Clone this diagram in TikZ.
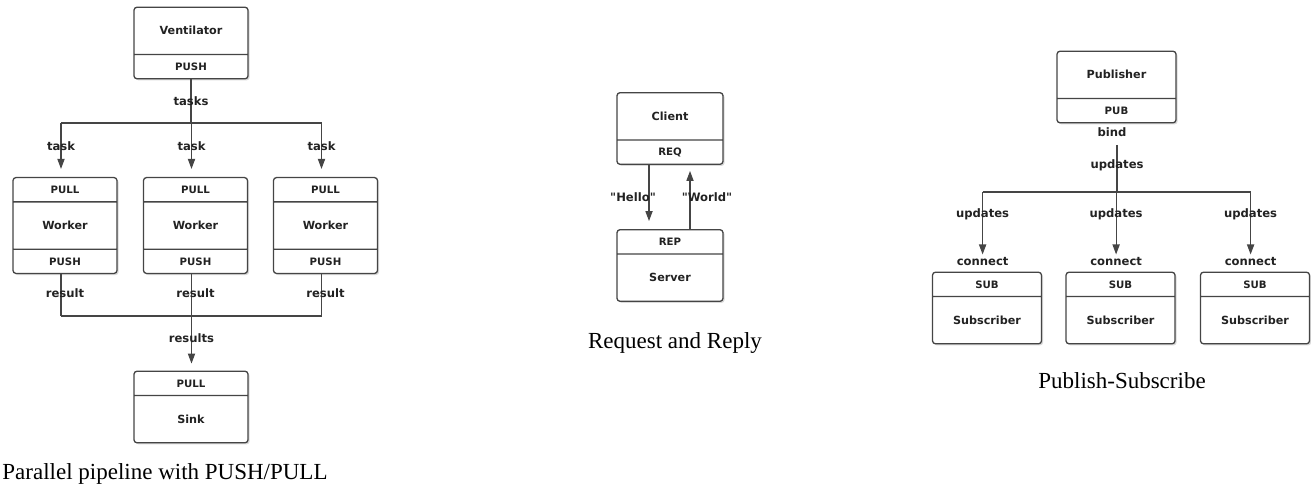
\documentclass[tikz,border=0pt]{standalone}
\usepackage{fontspec}
\setmainfont{Liberation Serif}
\newfontfamily\diagfont{DejaVu Sans}
\usetikzlibrary{shapes.multipart,arrows.meta,shadows,positioning}

\definecolor{edge}{HTML}{454545}
\definecolor{ink}{HTML}{222222}

% fonts for box names, socket types and wire labels
\newcommand\namefont{\diagfont\bfseries\fontsize{5.6}{6}\selectfont}
\newcommand\sockfont{\diagfont\bfseries\fontsize{5.1}{6}\selectfont}
\newcommand\wirefont{\diagfont\bfseries\fontsize{5.8}{6}\selectfont}
% one row of a box: tall row for the name, short row for the socket
\newcommand\namerow[1]{\rule[-9.5pt]{0pt}{23pt}\namefont #1}
\newcommand\sockrow[1]{\rule[-3.85pt]{0pt}{11.5pt}\sockfont #1}

\begin{document}
\begin{tikzpicture}[x=0.5pt, y=-0.5pt,
    box/.style={rectangle split, rectangle split parts=2, draw=edge, line width=0.65pt,
      rounded corners=1.5pt, fill=white, inner xsep=2pt, inner ysep=0pt, text=ink,
      drop shadow={shadow xshift=0.8pt, shadow yshift=-0.8pt, opacity=0.3}},
    box3/.style={box, rectangle split parts=3},
    wire/.style={draw=edge, line width=0.55pt},
    flow/.style={wire, -{Triangle[width=3.6pt,length=5pt]}},
    lbl/.style={font=\wirefont, text=ink, inner sep=1pt},
    caption/.style={font=\fontsize{11.5}{13}\selectfont, inner sep=0pt}
]
\useasboundingbox (0,0) rectangle (1311,489);

% ---- push/pull pipeline ----
\node[box, minimum width=57pt] (vent) at (191,43) {\namerow{Ventilator}\nodepart{two}\sockrow{PUSH}};
\foreach \n/\x in {w1/65, w2/195.5, w3/325.5}
  \node[box3, minimum width=52pt] (\n) at (\x,225.5)
    {\sockrow{PULL}\nodepart{two}\namerow{Worker}\nodepart{three}\sockrow{PUSH}};
\node[box, minimum width=57pt] (sink) at (191,407) {\sockrow{PULL}\nodepart{two}\namerow{Sink}};

\coordinate (fan) at (191,123);
\coordinate (join) at (191.5,316);
\foreach \n in {w1,w2,w3} {
  \coordinate (\n-in) at ([xshift=-2pt]\n.north);
  \coordinate (\n-out) at ([xshift=-2pt]\n.south);
}

% tasks
\draw[wire] (vent.south) -- (fan) node[lbl, pos=0.5] (tasks) {tasks};
\draw[wire] (w1-in |- fan) -- (w3-in |- fan);
\foreach \n in {w1,w2,w3} {
  \draw[flow, shorten >=4pt] (\n-in |- fan) -- (\n-in);
  \node[lbl] (task-\n) at (\n-in |- 0,146) {task};
}

% results
\foreach \n in {w1,w2,w3} {
  \draw[wire] (\n-out) -- (\n-out |- join);
  \node[lbl] (result-\n) at (\n.south |- 0,293) {result};
}
\draw[wire] (w1-out |- join) -- (w3-out |- join);
\draw[flow, shorten >=3.5pt] (join) -- (join |- sink.north) node[lbl, pos=0.4] (results) {results};

\node[caption, anchor=base west] (cap-pipe) at (2,479) {Parallel pipeline with PUSH/PULL};

% ---- request/reply ----
\node[box, minimum width=53pt] (client) at (670,128.5) {\namerow{Client}\nodepart{two}\sockrow{REQ}};
\node[box, minimum width=53pt] (server) at (670,265.5) {\sockrow{REP}\nodepart{two}\namerow{Server}};
\draw[flow, shorten >=4pt] ([xshift=-10.5pt]client.south) -- ([xshift=-10.5pt]server.north)
  node[lbl, midway, xshift=-8pt] (hello) {"Hello"};
\draw[flow, shorten >=3pt] ([xshift=10pt]server.north) -- ([xshift=10pt]client.south)
  node[lbl, midway, xshift=8.5pt] (world) {"World"};

\node[caption, anchor=base] (cap-reqrep) at (675,348) {Request and Reply};

% ---- publish/subscribe ----
\node[box, minimum width=59.5pt] (pub) at (1116.5,87) {\namerow{Publisher}\nodepart{two}\sockrow{PUB}};
\node[lbl] (bind) at (1112,132) {bind};
\foreach \n/\x in {s1/987, s2/1120.5, s3/1255} {
  \node[box, minimum width=54.5pt] (\n) at (\x,308) {\sockrow{SUB}\nodepart{two}\namerow{Subscriber}};
  \node[lbl] (connect-\n) at ([xshift=-2.2pt]\n.north |- 0,261) {connect};
}

\coordinate (spread) at (1117,192);
\draw[wire, shorten <=3pt] (bind.south -| spread) -- (spread) node[lbl, pos=0.5] (updates) {updates};
\draw[wire] (connect-s1 |- spread) -- (connect-s3 |- spread);
\foreach \n in {s1,s2,s3} {
  \draw[flow] (connect-\n |- spread) -- (connect-\n.north);
  \node[lbl] (updates-\n) at (connect-\n |- 0,214) {updates};
}

\node[caption, anchor=base] (cap-pubsub) at (1122,388) {Publish-Subscribe};

\end{tikzpicture}
\end{document}
